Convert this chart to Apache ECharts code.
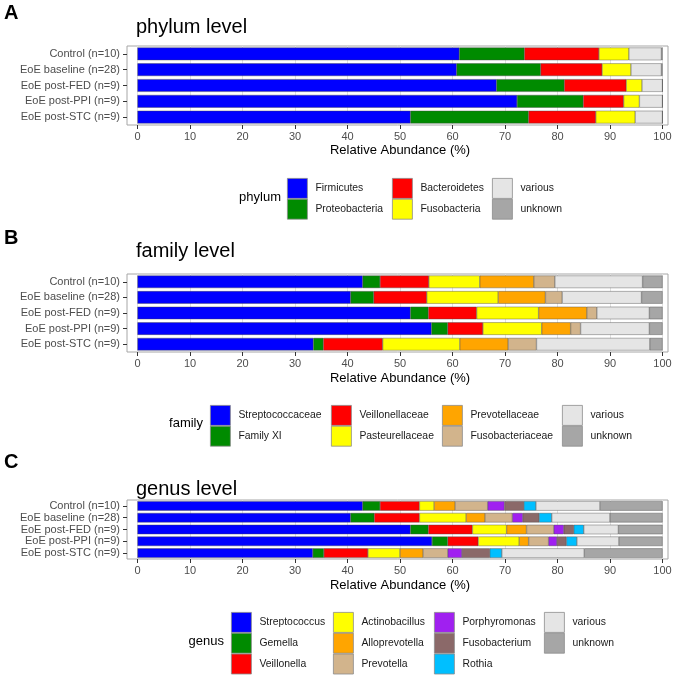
<!DOCTYPE html>
<html>
<head>
<meta charset="utf-8">
<script src="https://cdn.jsdelivr.net/npm/echarts@6/dist/echarts.min.js"></script>
<style>
  html, body { margin: 0; padding: 0; background: #fff; }
  #main { width: 685px; height: 679px; }
</style>
</head>
<body>
<div id="main"></div>
<script>
// sample groups (top to bottom)
var groups = ['Control (n=10)', 'EoE baseline (n=28)', 'EoE post-FED (n=9)', 'EoE post-PPI (n=9)', 'EoE post-STC (n=9)'];

// phylum level, % relative abundance
var firmicutes     = [61.3, 60.8, 68.4, 72.3, 52.0];
var proteobacteria = [12.4, 16.0, 12.9, 12.6, 22.5];
var bacteroidetes  = [14.2, 11.7, 11.8, 7.7, 12.8];
var fusobacteria   = [5.7, 5.5, 3.0, 3.0, 7.5];
var phylumVarious  = [6.2, 5.8, 3.9, 4.4, 5.2];
var phylumUnknown  = [0.2, 0.2, 0.0, 0.0, 0.0];

// family level
var streptococcaceae  = [42.9, 40.6, 52.0, 56.0, 33.5];
var familyXI          = [3.3, 4.4, 3.4, 3.1, 1.9];
var veillonellaceae   = [9.3, 10.1, 9.2, 6.7, 11.3];
var pasteurellaceae   = [9.7, 13.6, 11.8, 11.2, 14.7];
var prevotellaceae    = [10.3, 9.0, 9.2, 5.5, 9.2];
var fusobacteriaceae  = [4.0, 3.2, 1.9, 1.9, 5.4];
var familyVarious     = [16.7, 15.1, 10.0, 13.1, 21.6];
var familyUnknown     = [3.8, 4.0, 2.5, 2.5, 2.4];

// genus level
var streptococcus  = [42.9, 40.6, 52.0, 56.1, 33.4];
var gemella        = [3.3, 4.5, 3.4, 3.0, 2.1];
var veillonella    = [7.5, 8.6, 8.4, 5.8, 8.4];
var actinobacillus = [2.8, 8.9, 6.5, 7.8, 6.1];
var alloprevotella = [4.0, 3.6, 3.8, 1.8, 4.4];
var prevotella     = [6.2, 5.2, 5.2, 3.8, 4.7];
var porphyromonas  = [3.2, 2.0, 1.9, 1.6, 2.7];
var fusobacterium  = [3.7, 3.1, 1.9, 1.8, 5.3];
var rothia         = [2.3, 2.4, 1.9, 2.0, 2.3];
var genusVarious   = [12.2, 11.1, 6.6, 8.0, 15.7];
var genusUnknown   = [11.9, 10.0, 8.4, 8.3, 14.9];

var FONT = 'Liberation Sans, Arial, sans-serif';

var panels = [
  {
    letter: 'A', title: 'phylum level', letterTop: 3, titleTop: 17,
    top: 46, height: 79, nameGap: 19,
    legendName: 'phylum', legendRight: 404, legendTop: 178, legendTitleTop: 191,
    legendLeft: [287, 392, 492],
    columns: [['Firmicutes', 'Proteobacteria'], ['Bacteroidetes', 'Fusobacteria'], ['various', 'unknown']],
    taxa: [
      ['Firmicutes', firmicutes, '#0000ff'],
      ['Proteobacteria', proteobacteria, '#008b00'],
      ['Bacteroidetes', bacteroidetes, '#ff0000'],
      ['Fusobacteria', fusobacteria, '#ffff00'],
      ['various', phylumVarious, '#e5e5e5'],
      ['unknown', phylumUnknown, '#a6a6a6']
    ]
  },
  {
    letter: 'B', title: 'family level', letterTop: 228, titleTop: 241,
    top: 274, height: 78, nameGap: 20,
    legendName: 'family', legendRight: 482, legendTop: 405, legendTitleTop: 417,
    legendLeft: [210, 331, 442, 562],
    columns: [['Streptococcaceae', 'Family XI'], ['Veillonellaceae', 'Pasteurellaceae'],
              ['Prevotellaceae', 'Fusobacteriaceae'], ['various', 'unknown']],
    taxa: [
      ['Streptococcaceae', streptococcaceae, '#0000ff'],
      ['Family XI', familyXI, '#008b00'],
      ['Veillonellaceae', veillonellaceae, '#ff0000'],
      ['Pasteurellaceae', pasteurellaceae, '#ffff00'],
      ['Prevotellaceae', prevotellaceae, '#ffa500'],
      ['Fusobacteriaceae', fusobacteriaceae, '#d2b48c'],
      ['various', familyVarious, '#e5e5e5'],
      ['unknown', familyUnknown, '#a6a6a6']
    ]
  },
  {
    letter: 'C', title: 'genus level', letterTop: 452, titleTop: 479,
    top: 500, height: 59, nameGap: 20,
    legendName: 'genus', legendRight: 461, legendTop: 612, legendTitleTop: 635,
    legendLeft: [231, 333, 434, 544],
    columns: [['Streptococcus', 'Gemella', 'Veillonella'], ['Actinobacillus', 'Alloprevotella', 'Prevotella'],
              ['Porphyromonas', 'Fusobacterium', 'Rothia'], ['various', 'unknown']],
    taxa: [
      ['Streptococcus', streptococcus, '#0000ff'],
      ['Gemella', gemella, '#008b00'],
      ['Veillonella', veillonella, '#ff0000'],
      ['Actinobacillus', actinobacillus, '#ffff00'],
      ['Alloprevotella', alloprevotella, '#ffa500'],
      ['Prevotella', prevotella, '#d2b48c'],
      ['Porphyromonas', porphyromonas, '#a020f0'],
      ['Fusobacterium', fusobacterium, '#8b6969'],
      ['Rothia', rothia, '#00bfff'],
      ['various', genusVarious, '#e5e5e5'],
      ['unknown', genusUnknown, '#a6a6a6']
    ]
  }
];

var grids = [], xAxes = [], yAxes = [], series = [], titles = [], legends = [];

panels.forEach(function (p, i) {
  var bg = i * 2, dt = i * 2 + 1;

  titles.push({ text: p.letter, left: 4, top: p.letterTop, padding: 0,
    textStyle: { fontSize: 20, fontWeight: 'bold', color: '#000', fontFamily: FONT } });
  titles.push({ text: p.title, left: 136, top: p.titleTop, padding: 0,
    textStyle: { fontSize: 20, fontWeight: 'normal', color: '#000', fontFamily: FONT } });
  titles.push({ text: p.legendName, right: p.legendRight, top: p.legendTitleTop, padding: 0,
    textStyle: { fontSize: 13, fontWeight: 'normal', color: '#000', fontFamily: FONT } });

  // panel frame (slightly wider than the 0-100 range) + data grid
  grids.push({ left: 127, width: 541, top: p.top, height: p.height, show: true,
    backgroundColor: '#fff', borderColor: '#a6a6a6', borderWidth: 1 });
  grids.push({ left: 137.5, width: 525, top: p.top, height: p.height });

  xAxes.push({ type: 'value', gridIndex: bg, show: false, min: 0, max: 1 });
  yAxes.push({ type: 'category', gridIndex: bg, data: groups, inverse: true,
    axisLine: { show: false },
    axisTick: { show: true, length: 4, alignWithLabel: true, interval: 0, lineStyle: { color: '#333' } },
    axisLabel: { margin: 7, interval: 0, fontSize: 11, color: '#4d4d4d', fontFamily: FONT },
    splitLine: { show: false } });

  xAxes.push({ type: 'value', gridIndex: dt, min: 0, max: 100, interval: 10,
    axisLine: { show: false },
    axisTick: { show: true, length: 4, lineStyle: { color: '#333' } },
    axisLabel: { margin: 6, fontSize: 11, color: '#4d4d4d', fontFamily: FONT },
    splitLine: { show: true, lineStyle: { color: '#e0e0e0', width: 1 } },
    name: 'Relative Abundance (%)', nameLocation: 'middle', nameGap: p.nameGap,
    nameTextStyle: { fontSize: 13, color: '#000', fontFamily: FONT } });
  yAxes.push({ type: 'category', gridIndex: dt, data: groups, inverse: true, show: false });

  p.taxa.forEach(function (t) {
    series.push({
      type: 'bar', name: t[0], data: t[1], stack: 'panel' + i,
      xAxisIndex: dt, yAxisIndex: dt, barCategoryGap: '20%', silent: true,
      itemStyle: { color: t[2], borderColor: '#444', borderWidth: 0.4 }
    });
  });

  p.columns.forEach(function (col, c) {
    legends.push({
      data: col, orient: 'vertical', left: p.legendLeft[c], top: p.legendTop,
      padding: 0, itemWidth: 20, itemHeight: 20, itemGap: 0, icon: 'rect',
      selectedMode: false,
      itemStyle: { borderColor: '#8c8c8c', borderWidth: 0.8 },
      textStyle: { fontSize: 10.4, color: '#1a1a1a', fontFamily: FONT, padding: [0, 0, 0, 3] }
    });
  });
});

var chart = echarts.init(document.getElementById('main'));
chart.setOption({
  animation: false,
  backgroundColor: '#fff',
  textStyle: { fontFamily: FONT },
  title: titles,
  legend: legends,
  grid: grids,
  xAxis: xAxes,
  yAxis: yAxes,
  series: series
});
</script>
</body>
</html>
